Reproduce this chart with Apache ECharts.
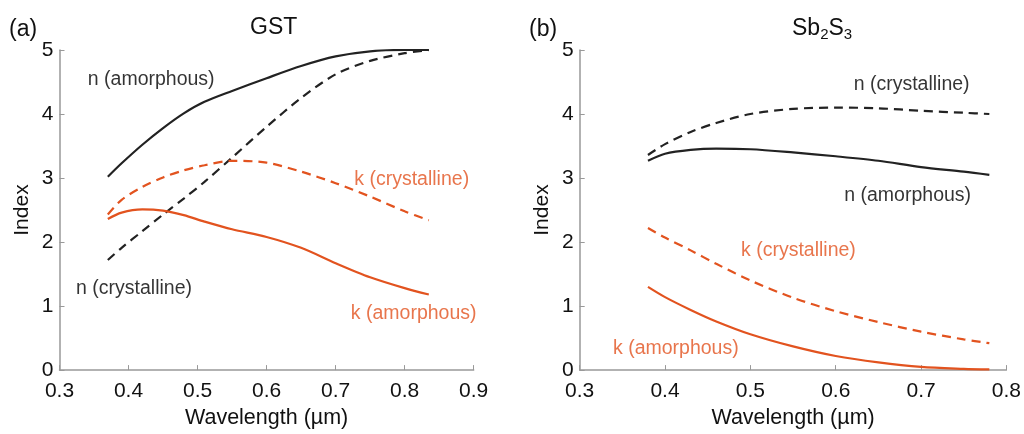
<!DOCTYPE html>
<html>
<head>
<meta charset="utf-8">
<title>GST / Sb2S3 index</title>
<script src="https://cdn.jsdelivr.net/npm/echarts@6/dist/echarts.min.js"></script>
<style>html,body{margin:0;background:#fff;}</style>
</head>
<body>
<div style="width:1024px;height:434px;" id="main"></div>
<script type="text/javascript">
// GST (panel a)
var gstWl = [0.37, 0.39, 0.42, 0.45, 0.48, 0.51, 0.55, 0.60, 0.65, 0.70, 0.75, 0.80, 0.835];
var gstNAmo = [3.02, 3.23, 3.52, 3.78, 4.01, 4.19, 4.36, 4.56, 4.75, 4.90, 4.98, 5.00, 5.00];
var gstNCry = [1.72, 1.91, 2.17, 2.43, 2.68, 2.94, 3.32, 3.80, 4.25, 4.62, 4.83, 4.95, 5.00];
var gstKAmo = [2.36, 2.46, 2.51, 2.49, 2.42, 2.32, 2.20, 2.08, 1.91, 1.67, 1.45, 1.28, 1.18];
var gstKCry = [2.43, 2.66, 2.86, 3.01, 3.12, 3.20, 3.27, 3.24, 3.10, 2.92, 2.71, 2.48, 2.34];

// Sb2S3 (panel b)
var sbWl = [0.38, 0.40, 0.43, 0.46, 0.50, 0.55, 0.60, 0.65, 0.70, 0.75, 0.78];
var sbNAmo = [3.27, 3.38, 3.44, 3.46, 3.45, 3.40, 3.34, 3.27, 3.17, 3.10, 3.05];
var sbNCry = [3.36, 3.53, 3.72, 3.86, 4.00, 4.08, 4.10, 4.09, 4.05, 4.02, 4.00];
var sbKAmo = [1.30, 1.14, 0.94, 0.76, 0.56, 0.37, 0.22, 0.12, 0.05, 0.02, 0.01];
var sbKCry = [2.22, 2.07, 1.87, 1.66, 1.40, 1.13, 0.92, 0.75, 0.60, 0.48, 0.42];

// tick labels
var gstTicks = [0.3, 0.9, 0.1];
var sbTicks = [0.3, 0.8, 0.1];
var yTicks = [0, 5, 1];

// curve annotations: text, wavelength, index
var gstNotes = [
  ['n (amorphous)', 0.341, 4.54, 'dark'],
  ['k (crystalline)', 0.727, 2.97, 'orange'],
  ['n (crystalline)', 0.324, 1.28, 'dark'],
  ['k (amorphous)', 0.722, 0.88, 'orange']
];
var sbNotes = [
  ['n (crystalline)', 0.621, 4.46, 'dark'],
  ['n (amorphous)', 0.610, 2.73, 'dark'],
  ['k (crystalline)', 0.489, 1.86, 'orange'],
  ['k (amorphous)', 0.339, 0.34, 'orange']
];

var DARK = '#222222';
var ORANGE = '#E2531F';
var FONT = 'Liberation Sans, Arial, sans-serif';

var pairs = function(xs, ys){
  var out = [];
  for (var i = 0; i < xs.length; i++) out.push([xs[i], ys[i]]);
  return out;
};

var curve = function(idx, xs, ys, color, dashed){
  return {
    type: 'line',
    xAxisIndex: idx, yAxisIndex: idx,
    data: pairs(xs, ys),
    smooth: 0.3,
    showSymbol: false,
    silent: true,
    lineStyle: {color: color, width: 2.2, type: dashed ? [9, 6] : 'solid'}
  };
};

var notes = function(idx, list){
  return {
    type: 'scatter',
    xAxisIndex: idx, yAxisIndex: idx,
    symbolSize: 0,
    silent: true,
    data: list.map(function(n){
      return {
        name: n[0], value: [n[1], n[2]],
        label: {color: n[3] == 'orange' ? ORANGE : '#000'}
      };
    }),
    label: {
      show: true, position: 'right', distance: 0,
      fontSize: 19.5, fontFamily: FONT,
      formatter: function(p){ return p.name; }
    }
  };
};

var xAxisOf = function(idx, t){
  return {
    type: 'value', gridIndex: idx,
    min: t[0], max: t[1], interval: t[2],
    name: 'Wavelength (\u00b5m)', nameLocation: 'middle', nameGap: 36,
    nameTextStyle: {color: '#111', fontSize: 21.5, fontFamily: FONT},
    axisLine: {lineStyle: {color: '#999', width: 1.5}},
    axisTick: {inside: true, length: 5, lineStyle: {color: '#999'}},
    axisLabel: {color: '#111', fontSize: 21, fontFamily: FONT, margin: 11,
      formatter: function(v){ return v.toFixed(1); }},
    splitLine: {show: false}
  };
};

var yAxisOf = function(idx){
  return {
    type: 'value', gridIndex: idx,
    min: yTicks[0], max: yTicks[1], interval: yTicks[2],
    name: 'Index', nameLocation: 'middle', nameGap: 27, nameRotate: 90,
    nameTextStyle: {color: '#111', fontSize: 21, fontFamily: FONT},
    axisLine: {show: true, lineStyle: {color: '#999', width: 1.5}},
    axisTick: {show: true, inside: true, length: 5, lineStyle: {color: '#999'}},
    axisLabel: {color: '#111', fontSize: 21, fontFamily: FONT, margin: 6},
    splitLine: {show: false}
  };
};

var myChart = echarts.init(document.getElementById('main'));

var option = {
  backgroundColor: '#fff',
  animation: false,
  title: [
    {text: '(a)', left: 4, top: 13, textStyle: {fontSize: 23, fontWeight: 'normal', color: '#111', fontFamily: FONT}},
    {text: 'GST', left: 245, top: 11, textStyle: {fontSize: 23, fontWeight: 'normal', color: '#111', fontFamily: FONT}},
    {text: '(b)', left: 524, top: 13, textStyle: {fontSize: 23, fontWeight: 'normal', color: '#111', fontFamily: FONT}},
    {text: 'Sb{s|2}S{s|3}', left: 787, top: 11, textStyle: {
      fontSize: 23, fontWeight: 'normal', color: '#111', fontFamily: FONT,
      rich: {s: {fontSize: 15, color: '#111', fontFamily: FONT, padding: [11, 0, 0, 0]}}
    }}
  ],
  grid: [
    {left: 59.5, right: 550.3, top: 50, bottom: 61.3},
    {left: 579.7, right: 16.3, top: 50, bottom: 61.3}
  ],
  xAxis: [xAxisOf(0, gstTicks), xAxisOf(1, sbTicks)],
  yAxis: [yAxisOf(0), yAxisOf(1)],
  series: [
    curve(0, gstWl, gstNAmo, DARK, false),
    curve(0, gstWl, gstNCry, DARK, true),
    curve(0, gstWl, gstKAmo, ORANGE, false),
    curve(0, gstWl, gstKCry, ORANGE, true),
    curve(1, sbWl, sbNAmo, DARK, false),
    curve(1, sbWl, sbNCry, DARK, true),
    curve(1, sbWl, sbKAmo, ORANGE, false),
    curve(1, sbWl, sbKCry, ORANGE, true),
    notes(0, gstNotes),
    notes(1, sbNotes)
  ]
};

myChart.setOption(option);
</script>
</body>
</html>
